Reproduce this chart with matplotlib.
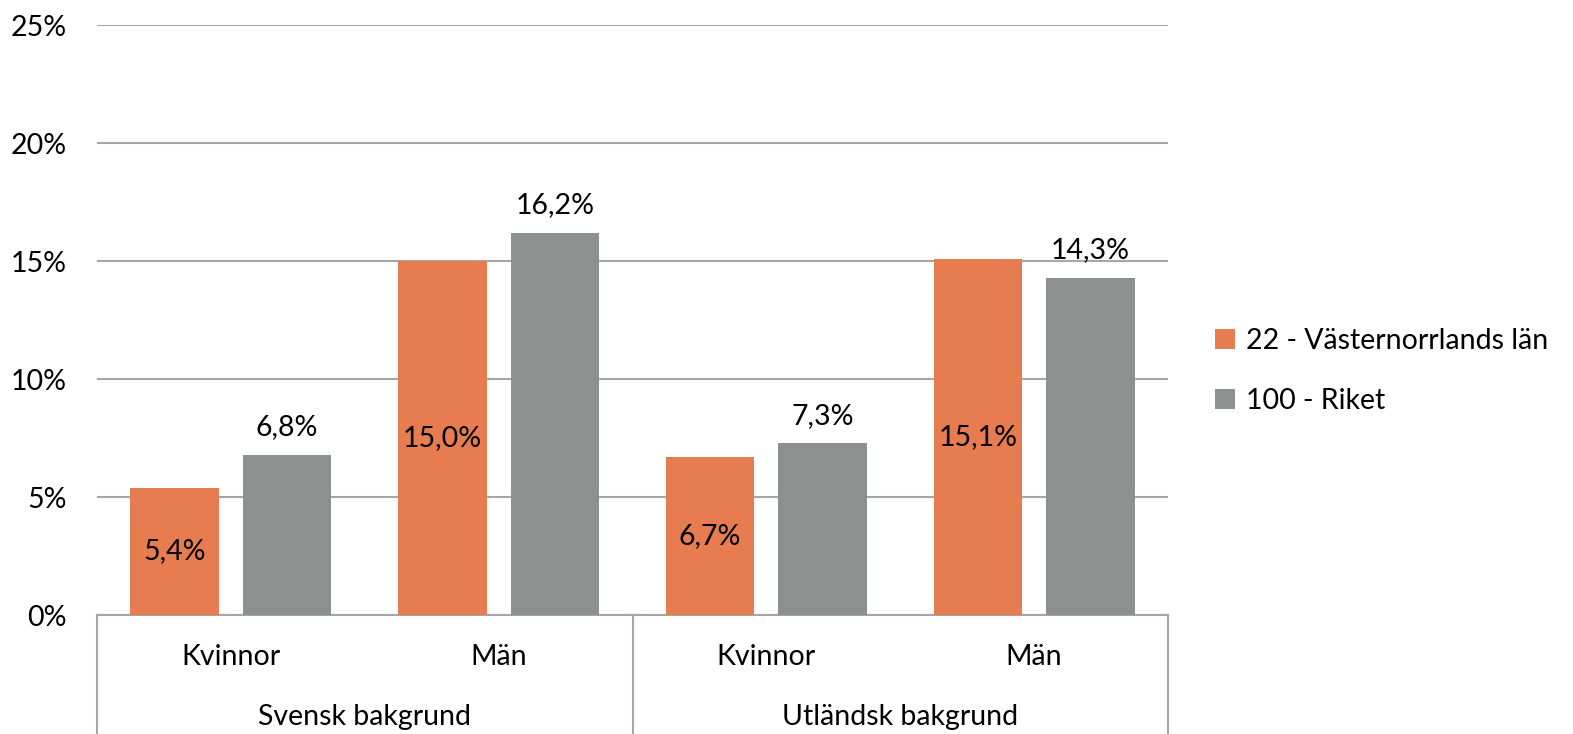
import matplotlib.pyplot as plt
import numpy as np

plt.rcParams['font.family'] = ['Lato', 'DejaVu Sans']

categories = ['Kvinnor', 'Män', 'Kvinnor', 'Män']
groups = ['Svensk bakgrund', 'Utländsk bakgrund']
series_names = ['22 - Västernorrlands län', '100 - Riket']
lan = [5.4, 15.0, 6.7, 15.1]
riket = [6.8, 16.2, 7.3, 14.3]
yticks = [0, 5, 10, 15, 20, 25]

orange = '#E67C50'
gray = '#8C908E'
gridc = '#A6A6A6'
fs = 20.5

fig = plt.figure(figsize=(15.73, 7.34), dpi=100)
ax = fig.add_axes([97/1573, 119/734, (1168-97)/1573, 590/734])

x = np.arange(len(categories))
w = 0.33
off = 0.21
b1 = ax.bar(x - off, lan, w, color=orange, label=series_names[0], zorder=3)
b2 = ax.bar(x + off, riket, w, color=gray, label=series_names[1], zorder=3)

def fmt(v):
    return ('%.1f%%' % v).replace('.', ',')

for rect, v in zip(b1, lan):
    ax.text(rect.get_x() + rect.get_width()/2, v/2, fmt(v), ha='center', va='center',
            fontsize=fs, color='black', zorder=4)
for rect, v in zip(b2, riket):
    ax.text(rect.get_x() + rect.get_width()/2, v + 0.6, fmt(v), ha='center', va='bottom',
            fontsize=fs, color='black', zorder=4)

ax.set_xlim(-0.5, len(categories) - 0.5)
ax.set_ylim(0, 25)
ax.set_yticks(yticks)
ax.set_yticklabels(['%d%%' % t for t in yticks], fontsize=fs)
ax.yaxis.grid(True, color=gridc, linewidth=1.5, zorder=0)
ax.tick_params(axis='y', length=0, pad=22)
ax.tick_params(axis='x', length=0, labelbottom=False)
for s in ['top', 'right', 'left']:
    ax.spines[s].set_visible(False)
ax.spines['bottom'].set_color(gridc)
ax.spines['bottom'].set_linewidth(1.5)

# category and group labels under the axis
for xi, c in zip(x, categories):
    ax.text(xi, -0.071, c, transform=ax.get_xaxis_transform(), ha='center', va='center', fontsize=fs)
for gi, g in enumerate(groups):
    ax.text(0.5 + 2*gi, -0.173, g, transform=ax.get_xaxis_transform(), ha='center', va='center', fontsize=fs)
for xv in [-0.5, 1.5, 3.5]:
    ax.plot([xv, xv], [0, -0.21], transform=ax.get_xaxis_transform(), color=gridc,
            linewidth=1.5, clip_on=False)

ax.legend(loc='center left', bbox_to_anchor=(1.02, 0.414), frameon=False, fontsize=fs,
          handlelength=0.7, handleheight=0.7, handletextpad=0.4, labelspacing=1.2)

fig.savefig('out.png', dpi=100)
